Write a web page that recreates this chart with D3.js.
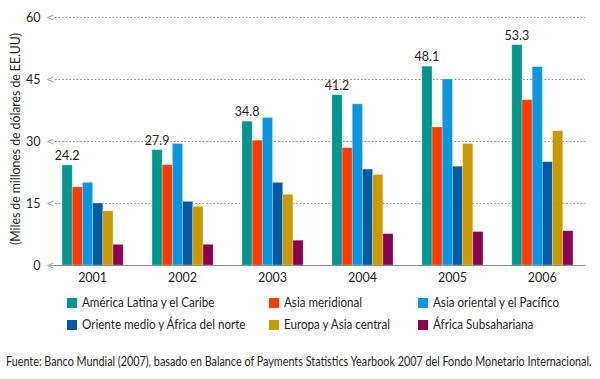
<!DOCTYPE html>
<html><head><meta charset="utf-8">
<script src="https://cdn.jsdelivr.net/npm/d3@7"></script>
<style>
html,body{margin:0;padding:0;background:#fff;}
svg{display:block;}
</style></head>
<body>
<svg id="chart" width="600" height="379"></svg>
<script>
const years = ["2001","2002","2003","2004","2005","2006"];
const seriesNames = ["América Latina y el Caribe","Asia meridional","Asia oriental y el Pacífico","Oriente medio y África del norte","Europa y Asia central","África Subsahariana"];
const seriesColors = ["#00958e","#ff3c00","#0a97e0","#015aa6","#c89a00","#8b0052"];
const latinAmerica = [24.2, 27.9, 34.8, 41.2, 48.1, 53.3];
const southAsia    = [18.9, 24.3, 30.2, 28.4, 33.4, 40.0];
const eastAsia     = [20.0, 29.4, 35.7, 39.0, 45.0, 48.0];
const middleEast   = [15.0, 15.4, 20.0, 23.2, 23.9, 25.0];
const europeCA     = [13.1, 14.2, 17.1, 21.9, 29.4, 32.5];
const subSahara    = [5.0, 5.0, 6.0, 7.6, 8.1, 8.3];
const yTicks = [0, 15, 30, 45, 60];
const yTitle = "(Miles de millones de dólares de EE.UU)";
const source = "Fuente: Banco Mundial (2007), basado en Balance of Payments Statistics Yearbook 2007 del Fondo Monetario Internacional.";

const allSeries = [latinAmerica, southAsia, eastAsia, middleEast, europeCA, subSahara];
const svg = d3.select("#chart");
const font = "Lato,'Open Sans',sans-serif";
const ink = "#1e1e1e";

// condense a text element horizontally around its anchor point to a target width
function condense(sel, target) {
  sel.each(function() {
    const t = d3.select(this);
    const w = this.getComputedTextLength();
    if (!w) return;
    const s = target / w;
    const x = +t.attr("x") || 0;
    t.attr("transform", `translate(${x},0) scale(${s},1) translate(${-x},0)`);
  });
}

const x0 = d3.scaleBand().domain(years).range([50, 585]).paddingInner(0.32).paddingOuter(0.134);
const x1 = d3.scaleBand().domain(d3.range(6)).range([0, x0.bandwidth()]);
const y = d3.scaleLinear().domain([0, 60]).range([265, 17]);

// gridlines
const g = svg.append("g");
yTicks.forEach(t => {
  const yy = Math.round(y(t)) + 0.5;
  if (t > 0) {
    g.append("line").attr("x1", 55).attr("x2", 585).attr("y1", yy).attr("y2", yy)
      .attr("stroke", "#8a8a8a").attr("stroke-width", 1.2).attr("stroke-dasharray", "1.6,2");
  }
  g.append("path").attr("d", `M53.5,${yy-2.5} L47.5,${yy} L53.5,${yy+2.5}`)
    .attr("fill", "none").attr("stroke", "#9a9a9a").attr("stroke-width", 1);
  g.append("text").attr("x", 40.5).attr("y", yy).attr("dy", "0.36em").attr("text-anchor", "end")
    .attr("font-family", font).attr("font-size", 12.5).attr("fill", ink).text(t);
});

// bars
const groups = svg.append("g").selectAll("g").data(years).join("g")
  .attr("transform", d => `translate(${x0(d)},0)`);
groups.selectAll("rect").data((d, i) => allSeries.map((s, k) => ({k, v: s[i]}))).join("rect")
  .attr("x", d => x1(d.k)).attr("width", x1.bandwidth())
  .attr("y", d => y(d.v)).attr("height", d => y(0) - y(d.v))
  .attr("fill", d => seriesColors[d.k])
  .attr("stroke", "rgba(255,255,255,0.35)").attr("stroke-width", 0.8);

// value labels
groups.append("text")
  .attr("x", x1(0) + x1.bandwidth()/2)
  .attr("y", (d, i) => y(latinAmerica[i]) - 5)
  .attr("text-anchor", "middle").attr("font-family", font).attr("font-size", 12.5)
  .attr("fill", ink).text((d, i) => latinAmerica[i].toFixed(1));

// baseline
svg.append("line").attr("x1", 50).attr("x2", 585).attr("y1", y(0)+0.5).attr("y2", y(0)+0.5)
  .attr("stroke", "#8a8a8a").attr("stroke-width", 1.2);

// x axis labels
svg.append("g").selectAll("text").data(years).join("text")
  .attr("x", d => x0(d) + x0.bandwidth()/2).attr("y", 282)
  .attr("text-anchor", "middle").attr("font-family", font).attr("font-size", 12.5)
  .attr("fill", ink).text(d => d);

// y title
const yt = svg.append("g").attr("transform", "translate(19.5,139) rotate(-90)")
  .append("text").attr("x", 0).attr("y", 0)
  .attr("text-anchor", "middle").attr("font-family", font).attr("font-size", 12.5)
  .attr("fill", ink).text(yTitle);
condense(yt, 212);

// legend
const legX = [67, 269, 418];
const legY = [298, 320];
let legScale = null;
seriesNames.forEach((n, i) => {
  const cx = legX[i % 3], cy = legY[Math.floor(i / 3)];
  svg.append("rect").attr("x", cx).attr("y", cy).attr("width", 10).attr("height", 10).attr("fill", seriesColors[i]);
  const t = svg.append("text").attr("x", cx + 15).attr("y", cy + 5).attr("dy", "0.36em")
    .attr("font-family", font).attr("font-size", 12.5).attr("fill", ink).text(n);
  const w = t.node().getComputedTextLength();
  if (legScale === null && w) legScale = 132.5 / w;
  if (legScale) condense(t, w * legScale);
});

// source
const src = svg.append("text").attr("x", 6).attr("y", 366)
  .attr("font-family", font).attr("font-size", 12.5).attr("fill", ink).text(source);
condense(src, 586);
</script>
</body></html>
